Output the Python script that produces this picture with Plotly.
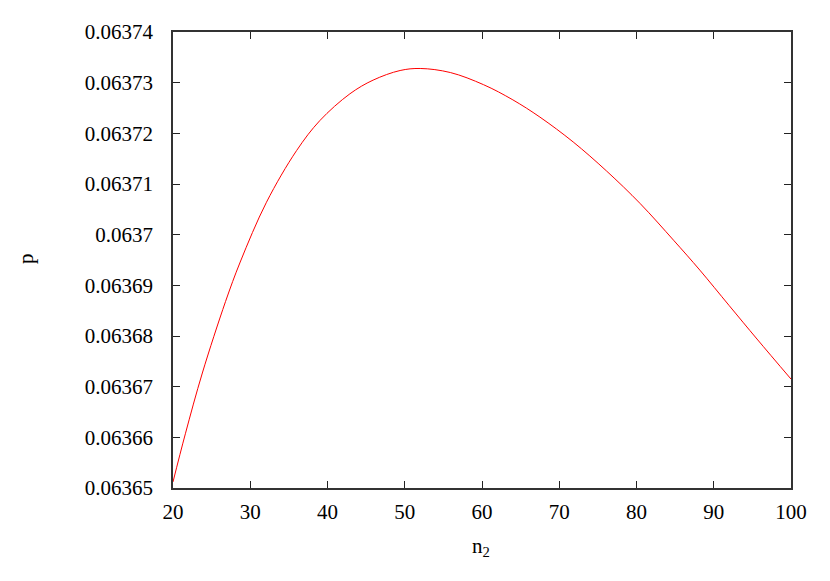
import plotly.graph_objects as go

# values
n2 = [20.0, 21.6, 23.8, 26.8, 28.7, 32.1, 36.0, 39.0, 42.9, 45.9, 49.4, 52.0,
      55.9, 60.2, 64.0, 67.5, 71.8, 76.1, 80.5, 84.8, 88.2, 92.0, 95.6, 100.0]
p = [0.0636512, 0.0636607, 0.0636727, 0.0636868, 0.0636946, 0.0637064,
     0.0637166, 0.0637225, 0.0637278, 0.0637305, 0.0637324, 0.0637328,
     0.0637320, 0.0637296, 0.0637266, 0.0637232, 0.0637183, 0.0637126,
     0.0637061, 0.0636989, 0.0636930, 0.0636860, 0.0636794, 0.0636715]

x_ticks = [20, 30, 40, 50, 60, 70, 80, 90, 100]
y_ticks = [0.06365, 0.06366, 0.06367, 0.06368, 0.06369,
           0.0637, 0.06371, 0.06372, 0.06373, 0.06374]
y_labels = ["0.06365", "0.06366", "0.06367", "0.06368", "0.06369",
            "0.0637", "0.06371", "0.06372", "0.06373", "0.06374"]

font = dict(family="Liberation Serif, Times New Roman, serif", size=21, color="black")

fig = go.Figure(go.Scatter(
    x=n2, y=p, mode="lines",
    line=dict(color="red", width=1, shape="spline", smoothing=1.0),
    showlegend=False,
))

axis_style = dict(
    showline=True, linecolor="#333333", linewidth=1.5, mirror="ticks",
    ticks="inside", ticklen=7, tickwidth=1, tickcolor="#222222",
    showgrid=False, zeroline=False, tickfont=font,
)

fig.update_layout(
    width=814, height=565,
    paper_bgcolor="white", plot_bgcolor="white",
    margin=dict(l=165, r=31, t=20, b=85),
    font=font,
    xaxis=dict(range=[20, 100], tickvals=x_ticks, ticklabelstandoff=4, **axis_style),
    yaxis=dict(range=[0.06365, 0.06374], tickvals=y_ticks, ticktext=y_labels,
               ticklabelstandoff=14, **axis_style),
    annotations=[
        dict(text="n<sub>2</sub>", xref="paper", yref="paper", x=0.498, y=-0.13,
             xanchor="center", yanchor="middle", showarrow=False, font=font),
        dict(text="p", xref="paper", yref="paper", x=-0.239, y=0.503,
             xanchor="center", yanchor="middle", showarrow=False, font=font,
             textangle=-90),
    ],
)

fig.write_html("out.html")
